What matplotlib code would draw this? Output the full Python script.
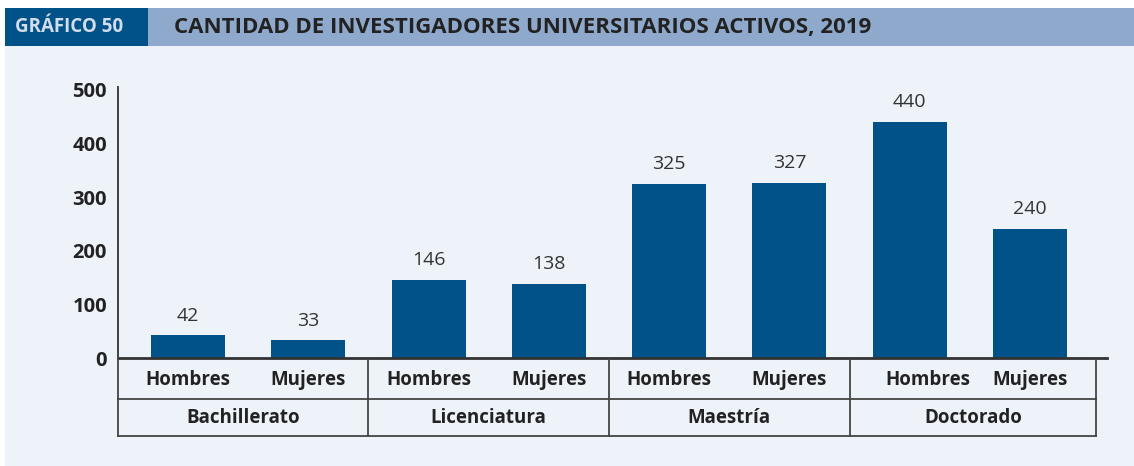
import matplotlib.pyplot as plt
import matplotlib.patches as patches

# Investigadores universitarios activos por nivel de estudios y sexo, 2019
niveles = ["Bachillerato", "Licenciatura", "Maestría", "Doctorado"]
sexos = ["Hombres", "Mujeres"]
hombres = [42, 146, 325, 440]
mujeres = [33, 138, 327, 240]
yticks = [0, 100, 200, 300, 400, 500]

BAR = "#02528a"
BAND = "#8fa9cc"
PANEL = "#eef3fa"
INK = "#222222"

W, H = 1134, 466
fig = plt.figure(figsize=(W / 100, H / 100), dpi=100)
fig.patch.set_facecolor("white")
plt.rcParams["font.family"] = ["Open Sans", "DejaVu Sans"]


def box(x0, y0, x1, y1):
    # pixel box (top-left origin) -> figure fraction rect
    return [x0 / W, 1 - y1 / H, (x1 - x0) / W, (y1 - y0) / H]


# background panel and header band
for rect, col in [((5, 46, W, H), PANEL), ((148, 8, W, 46), BAND), ((5, 8, 148, 46), BAR)]:
    b = box(*rect)
    fig.patches.append(patches.Rectangle((b[0], b[1]), b[2], b[3], transform=fig.transFigure,
                                         facecolor=col, edgecolor="none", zorder=-5))
fig.text(15 / W, 1 - 27.5 / H, "GRÁFICO 50", color="#d3deec", fontsize=13.5, fontweight="bold",
         ha="left", va="center")
fig.text(174 / W, 1 - 27.5 / H, "CANTIDAD DE INVESTIGADORES UNIVERSITARIOS ACTIVOS, 2019",
         color=INK, fontsize=16, fontweight="bold", ha="left", va="center")

# bar axes
xl = (-0.582, 7.64)
ax = fig.add_axes(box(118, 87, 1107, 358))
ax.set_facecolor("none")
valores = []
for h, m in zip(hombres, mujeres):
    valores += [h, m]
pos = list(range(len(valores)))
ax.bar(pos, valores, width=0.615, color=BAR, zorder=2)
for x, v in zip(pos, valores):
    ax.text(x, v + 20, str(v), ha="center", va="bottom", fontsize=14, color="#333333")
ax.set_xlim(*xl)
ax.set_ylim(0, 505)
ax.set_yticks(yticks)
ax.set_yticklabels([str(t) for t in yticks], fontsize=14.5, fontweight="bold", color=INK)
ax.tick_params(axis="y", length=0, pad=8)
ax.set_xticks([])
for s in ["top", "right"]:
    ax.spines[s].set_visible(False)
ax.spines["left"].set_color("#333333")
ax.spines["left"].set_linewidth(1.3)
ax.spines["bottom"].set_color("#333333")
ax.spines["bottom"].set_linewidth(2)

# category table below the bars
tab = fig.add_axes(box(118, 358, 1107, 437))
tab.set_xlim(*xl)
tab.set_ylim(79, 0)
tab.axis("off")
lc = dict(color="#444444", lw=1.3, clip_on=False)
left, right = -0.585, 7.55
tab.plot([left, right], [41, 41], **lc)
tab.plot([left, right], [78, 78], **lc)
for xd in [left, 1.5, 3.5, 5.5, right]:
    tab.plot([xd, xd], [0, 78], **lc)

for x in pos:
    dx = 0.15 if x == 6 else 0
    tab.text(x + dx, 22, sexos[x % 2], ha="center", va="center", fontsize=13.5,
             fontweight="bold", color=INK)
edges = [left, 1.5, 3.5, 5.5, right]
for i, nivel in enumerate(niveles):
    tab.text((edges[i] + edges[i + 1]) / 2, 60, nivel, ha="center", va="center",
             fontsize=13.5, fontweight="bold", color=INK)

fig.savefig("out.png", dpi=100)
